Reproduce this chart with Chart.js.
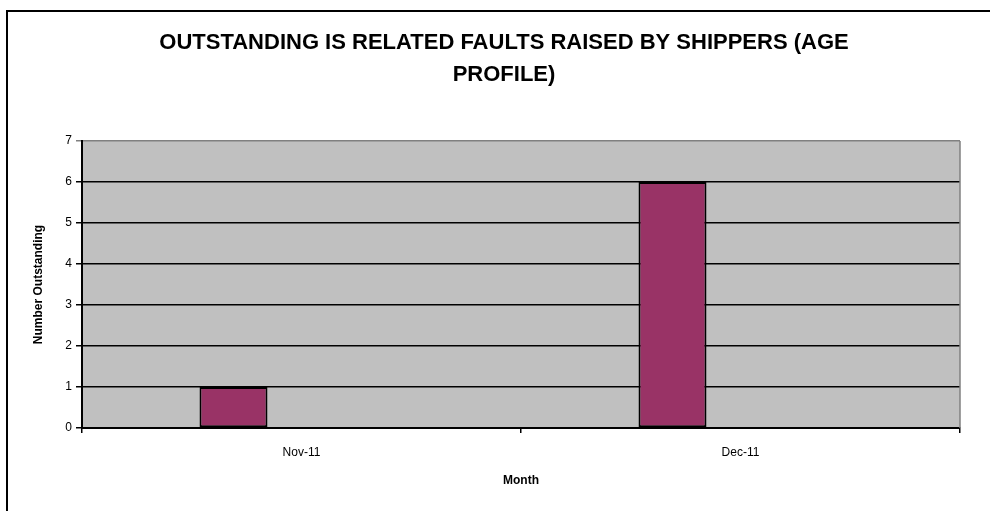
<!DOCTYPE html>
<html>
<head>
<meta charset="utf-8">
<script src="https://cdn.jsdelivr.net/npm/chart.js@4/dist/chart.umd.min.js"></script>
<style>
  html, body { margin: 0; padding: 0; background: #ffffff; }
  #wrap { position: relative; width: 990px; height: 511px; }
</style>
</head>
<body>
<div id="wrap"><canvas id="c" width="990" height="511"></canvas></div>
<script>
// ---- data ----
const categories = ['Nov-11', 'Dec-11'];
const outstanding = [1, 6];
const emptySeries = [null, null];
const yTicks = [0, 1, 2, 3, 4, 5, 6, 7];
const titleLines = ['OUTSTANDING IS RELATED FAULTS RAISED BY SHIPPERS (AGE', 'PROFILE)'];
const yTitle = 'Number Outstanding';
const xTitle = 'Month';

const FONT = '"Liberation Sans", Arial, Helvetica, sans-serif';

const decor = {
  id: 'decor',
  beforeDraw(chart) {
    const { ctx, chartArea: a } = chart;
    ctx.save();
    ctx.fillStyle = '#ffffff';
    ctx.fillRect(0, 0, chart.width, chart.height);
    ctx.strokeStyle = '#000000';
    ctx.lineWidth = 2;
    ctx.strokeRect(7, 11, 2000, 2000);
    ctx.fillStyle = '#c0c0c0';
    ctx.fillRect(a.left, a.top, a.right - a.left, a.bottom - a.top);
    ctx.restore();
  },
  beforeDatasetsDraw(chart) {
    const { ctx, chartArea: a } = chart;
    ctx.save();
    ctx.strokeStyle = '#808080';
    ctx.lineWidth = 1.5;
    ctx.beginPath();
    ctx.moveTo(a.right, a.top);
    ctx.lineTo(a.right, a.bottom);
    ctx.stroke();
    ctx.restore();
  }
};

const barStyle = {
  backgroundColor: '#993366',
  borderColor: '#000000',
  borderWidth: 2,
  borderSkipped: false,
  categoryPercentage: 0.7745,
  barPercentage: 1.0
};

new Chart(document.getElementById('c'), {
  type: 'bar',
  data: {
    labels: categories,
    datasets: [
      Object.assign({ label: 'Series 1', data: emptySeries }, barStyle),
      Object.assign({ label: 'Outstanding', data: outstanding }, barStyle),
      Object.assign({ label: 'Series 3', data: emptySeries }, barStyle),
      Object.assign({ label: 'Series 4', data: emptySeries }, barStyle),
      Object.assign({ label: 'Series 5', data: emptySeries }, barStyle)
    ]
  },
  options: {
    responsive: false,
    animation: false,
    layout: { padding: { left: 48, right: 30, top: 0, bottom: 0 } },
    plugins: {
      legend: { display: false },
      tooltip: { enabled: false },
      title: {
        display: true,
        text: titleLines,
        color: '#000000',
        font: { family: FONT, size: 22, weight: 'bold', lineHeight: 32 / 22 },
        padding: { top: 26.5, bottom: 50.5 }
      }
    },
    scales: {
      x: {
        type: 'category',
        offset: true,
        afterFit(s) { s.height = 83; },
        grid: {
          offset: true,
          drawOnChartArea: false,
          drawTicks: true,
          tickLength: 5,
          color: '#000000',
          lineWidth: 1.5
        },
        border: { display: true, color: '#000000', width: 2 },
        ticks: {
          color: '#000000',
          font: { family: FONT, size: 12 },
          padding: 12,
          maxRotation: 0
        },
        title: {
          display: true,
          text: xTitle,
          color: '#000000',
          font: { family: FONT, size: 12, weight: 'bold' },
          padding: { top: 0, bottom: 23 }
        }
      },
      y: {
        min: 0,
        max: 7,
        afterFit(s) { s.width = 34; },
        afterBuildTicks(s) { s.ticks = yTicks.map(v => ({ value: v })); },
        grid: {
          drawTicks: true,
          tickLength: 6,
          color: (c) => (c.tick && c.tick.value === 7) ? '#808080' : '#000000',
          lineWidth: 1.5
        },
        border: { display: true, color: '#000000', width: 2 },
        ticks: {
          color: '#000000',
          font: { family: FONT, size: 12 },
          padding: 4,
          stepSize: 1
        },
        title: {
          display: true,
          text: yTitle,
          color: '#000000',
          font: { family: FONT, size: 12, weight: 'bold' },
          padding: { top: -16.6, bottom: 0 }
        }
      }
    }
  },
  plugins: [decor]
});
</script>
</body>
</html>
